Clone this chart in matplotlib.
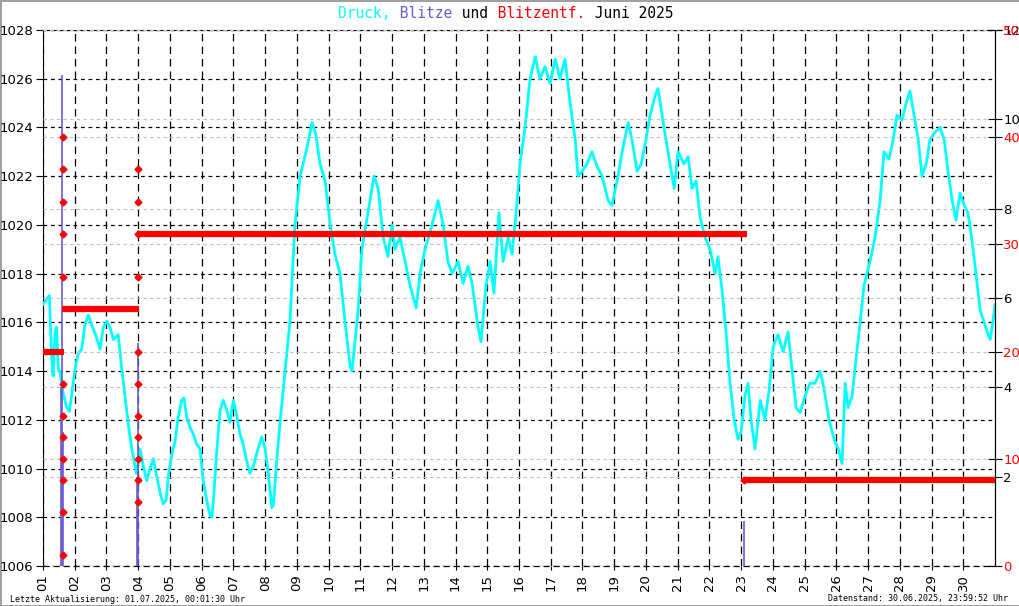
import matplotlib
matplotlib.use("Agg")
import matplotlib.pyplot as plt

# --- data (June 2025) ---
press_day = [1.01, 1.20, 1.27, 1.32, 1.38, 1.43, 1.48, 1.54, 1.64, 1.75, 1.83, 1.90,
             2.01, 2.11, 2.22, 2.32, 2.43, 2.53, 2.64, 2.80, 2.90, 3.01, 3.11, 3.22,
             3.37, 3.48, 3.58, 3.69, 3.80, 3.90, 3.95, 4.06, 4.16, 4.27, 4.37, 4.48,
             4.58, 4.69, 4.79, 4.88, 4.95, 5.06, 5.16, 5.26, 5.37, 5.44, 5.53, 5.63,
             5.74, 5.84, 5.95, 6.05, 6.16, 6.26, 6.32, 6.37, 6.47, 6.58, 6.68, 6.79,
             6.89, 7.00, 7.10, 7.21, 7.31, 7.42, 7.52, 7.63, 7.73, 7.89, 8.00, 8.10,
             8.21, 8.26, 8.37, 8.47, 8.63, 8.78, 8.94, 9.10, 9.29, 9.48, 9.60, 9.73,
             9.89, 10.05, 10.20, 10.36, 10.52, 10.68, 10.74, 10.93, 11.05, 11.24, 11.43,
             11.56, 11.72, 11.87, 12.00, 12.09, 12.25, 12.41, 12.57, 12.76, 12.88, 13.04,
             13.26, 13.45, 13.61, 13.76, 13.89, 14.08, 14.24, 14.39, 14.52, 14.71, 14.80,
             14.96, 15.09, 15.21, 15.37, 15.50, 15.66, 15.78, 15.91, 16.03, 16.19, 16.35,
             16.51, 16.66, 16.82, 16.98, 17.14, 17.29, 17.45, 17.61, 17.77, 17.86, 17.99,
             18.14, 18.30, 18.46, 18.62, 18.81, 18.93, 19.12, 19.25, 19.44, 19.56, 19.72,
             19.85, 20.00, 20.13, 20.29, 20.38, 20.51, 20.63, 20.76, 20.89, 21.01, 21.20,
             21.33, 21.45, 21.58, 21.71, 21.86, 22.02, 22.18, 22.27, 22.40, 22.53, 22.65,
             22.78, 22.90, 23.00, 23.12, 23.22, 23.31, 23.44, 23.60, 23.75, 23.88, 24.01,
             24.16, 24.32, 24.48, 24.61, 24.73, 24.86, 25.02, 25.17, 25.33, 25.49, 25.61,
             25.77, 25.93, 26.06, 26.18, 26.28, 26.37, 26.50, 26.62, 26.75, 26.87, 27.06,
             27.22, 27.38, 27.50, 27.66, 27.79, 27.91, 28.07, 28.20, 28.32, 28.45, 28.58,
             28.70, 28.83, 28.95, 29.11, 29.27, 29.40, 29.52, 29.65, 29.77, 29.90, 30.03,
             30.15, 30.28, 30.40, 30.53, 30.66, 30.78, 30.85, 30.91, 31.00]
press_hpa = [1016.75, 1017.1, 1014.6, 1013.8, 1015.6, 1015.8, 1014.1, 1013.9, 1013.05, 1012.5, 1012.35, 1013.0,
             1014.1, 1014.7, 1014.9, 1015.9, 1016.3, 1015.9, 1015.55, 1014.9, 1015.8, 1016.05, 1015.8, 1015.3,
             1015.5, 1014.1, 1013.0, 1011.8, 1010.8, 1010.1, 1009.8, 1010.8, 1010.1, 1009.5, 1010.0, 1010.4,
             1009.7, 1009.0, 1008.55, 1008.7, 1009.7, 1010.6, 1011.1, 1012.1, 1012.8, 1012.9, 1012.1, 1011.7,
             1011.4, 1011.0, 1010.8, 1009.5, 1008.7, 1008.1, 1008.0, 1008.7, 1010.6, 1012.4, 1012.8, 1012.4,
             1011.9, 1012.8, 1012.2, 1011.4, 1011.0, 1010.3, 1009.8, 1010.1, 1010.6, 1011.3, 1010.8, 1009.8,
             1008.4, 1008.5, 1010.4, 1011.9, 1014.0, 1016.0, 1020.0, 1022.0, 1023.0, 1024.2, 1023.7, 1022.5,
             1021.8, 1020.0, 1018.8, 1018.0, 1016.0, 1014.2, 1014.0, 1016.5, 1019.0, 1020.5, 1022.0,
             1021.5, 1019.5, 1018.7, 1020.0, 1019.0, 1019.5, 1018.5, 1017.5, 1016.6, 1018.0, 1019.0,
             1020.0, 1021.0, 1020.0, 1018.5, 1018.0, 1018.5, 1017.6, 1018.3, 1017.6, 1015.8, 1015.2,
             1017.5, 1018.5, 1017.2, 1020.5, 1018.5, 1019.5, 1018.8, 1020.5, 1022.5, 1024.0, 1026.0,
             1026.9, 1026.0, 1026.5, 1025.8, 1026.8, 1026.0, 1026.8, 1025.0, 1023.5, 1022.0, 1022.2,
             1022.5, 1023.0, 1022.4, 1022.0, 1021.0, 1020.8, 1022.0, 1023.0, 1024.2, 1023.5, 1022.2,
             1022.5, 1023.5, 1024.5, 1025.3, 1025.6, 1024.5, 1023.5, 1022.5, 1021.5, 1023.0, 1022.5,
             1022.8, 1021.5, 1021.8, 1020.3, 1019.5, 1019.0, 1018.0, 1018.7, 1017.3, 1015.5, 1013.5,
             1012.0, 1011.2, 1011.5, 1013.0, 1013.5, 1012.0, 1010.8, 1012.8, 1012.0, 1013.2, 1015.0,
             1015.5, 1014.8, 1015.6, 1014.0, 1012.5, 1012.3, 1013.0, 1013.5, 1013.5, 1014.0, 1013.3,
             1012.0, 1011.2, 1010.8, 1010.2, 1013.5, 1012.5, 1013.0, 1014.5, 1016.0, 1017.5, 1018.5,
             1019.5, 1021.0, 1023.0, 1022.7, 1023.5, 1024.5, 1024.3, 1025.0, 1025.5, 1024.5, 1023.5,
             1022.0, 1022.5, 1023.5, 1023.8, 1024.0, 1023.5, 1022.2, 1021.0, 1020.2, 1021.3, 1020.8,
             1020.5, 1019.3, 1018.0, 1016.5, 1016.0, 1015.5, 1015.3, 1015.8, 1016.7]

blitz_day = [1.58, 1.61, 1.64, 3.97, 3.985, 23.09]
blitz_count = [4, 11, 3, 2, 5, 1]

dist_day = [1.62] * 12 + [3.985] * 11 + [23.09]
dist_km = [40, 37, 34, 31, 27, 17, 14, 12, 10, 8, 5, 1,
           37, 34, 31, 27, 20, 17, 14, 12, 10, 8, 6,
           8]

# step line of the last distance
dist_from = [1.0, 1.6, 3.97, 23.07]
dist_to = [1.66, 4.02, 23.2, 31.0]
dist_level = [20, 24, 31, 8]

day_labels = [f"{d:02d}" for d in range(1, 31)]

CYAN = "#00ffff"
PURPLE = "#6a5acd"
RED = "#ff0000"

fig = plt.figure(figsize=(10.2, 6.06), dpi=100, edgecolor="#a0a0a0", linewidth=2)
ax = fig.add_axes([43 / 1020, 40 / 606, 952 / 1020, 536 / 606])

ax.plot(press_day, press_hpa, color=CYAN, lw=2.0, zorder=3)
ax.set_xlim(1, 31)
ax.set_ylim(1006, 1028)
ax.set_yticks(range(1006, 1029, 2))
ax.set_xticks(range(1, 31))
ax.set_xticklabels(day_labels, rotation=90)
ax.tick_params(axis="y", direction="out", length=5, labelsize=9.5, pad=2)
ax.tick_params(axis="x", direction="out", length=3, labelsize=9.5, pad=3)
ax.yaxis.grid(True, color="black", lw=0.9, ls=(0, (3, 3)))
ax.xaxis.grid(True, color="black", lw=0.9, ls=(0, (6, 4)))
ax.spines["bottom"].set_visible(False)
ax.spines["right"].set_visible(False)
ax.axhline(1006, color="black", lw=0.9, ls=(0, (5, 3)), clip_on=False)

# lightning counts
ax2 = ax.twinx()
ax2.set_ylim(0, 12)
ax2.set_yticks(range(2, 13, 2))
ax2.vlines(blitz_day, 0, blitz_count, color=PURPLE, lw=1.2)
ax2.yaxis.grid(True, color="#c0c0c0", lw=0.8, ls=(0, (3, 3)))
ax2.tick_params(axis="y", direction="inout", length=10, labelsize=9.5, pad=1)
for s in ["left", "top", "bottom"]:
    ax2.spines[s].set_visible(False)

# lightning distance
ax3 = ax.twinx()
ax3.set_ylim(0, 50)
ax3.set_yticks(range(0, 51, 10))
ax3.yaxis.grid(True, color="#c0c0c0", lw=0.8, ls=(0, (3, 3)))
ax3.hlines(dist_level, dist_from, dist_to, color=RED, lw=4.5)
ax3.plot(dist_day, dist_km, ls="none", marker="D", ms=3.5, color=RED)
ax3.tick_params(axis="y", direction="inout", length=10, labelsize=9.5, pad=1,
                labelcolor=RED)
for s in ["left", "top", "bottom"]:
    ax3.spines[s].set_visible(False)

# title in coloured pieces (monospace)
title_parts = [("Druck,", CYAN), (" Blitze", PURPLE), (" und", "black"),
               (" Blitzentf.", RED), (" Juni 2025", "black")]
pos = 0
for txt, col in title_parts:
    fig.text((338 + pos * 8.87) / 1020, 1 - 13 / 606, txt, color=col,
             family="DejaVu Sans Mono", fontsize=10.5, va="center", ha="left")
    pos += len(txt)

fig.text(10 / 1020, 1 - 599 / 606, "Letzte Aktualisierung: 01.07.2025, 00:01:30 Uhr",
         family="DejaVu Sans Mono", fontsize=6, va="center", ha="left")
fig.text(1008 / 1020, 1 - 599 / 606, "Datenstand: 30.06.2025, 23:59:52 Uhr",
         family="DejaVu Sans Mono", fontsize=6, va="center", ha="right")

fig.savefig("out.png", dpi=100)
